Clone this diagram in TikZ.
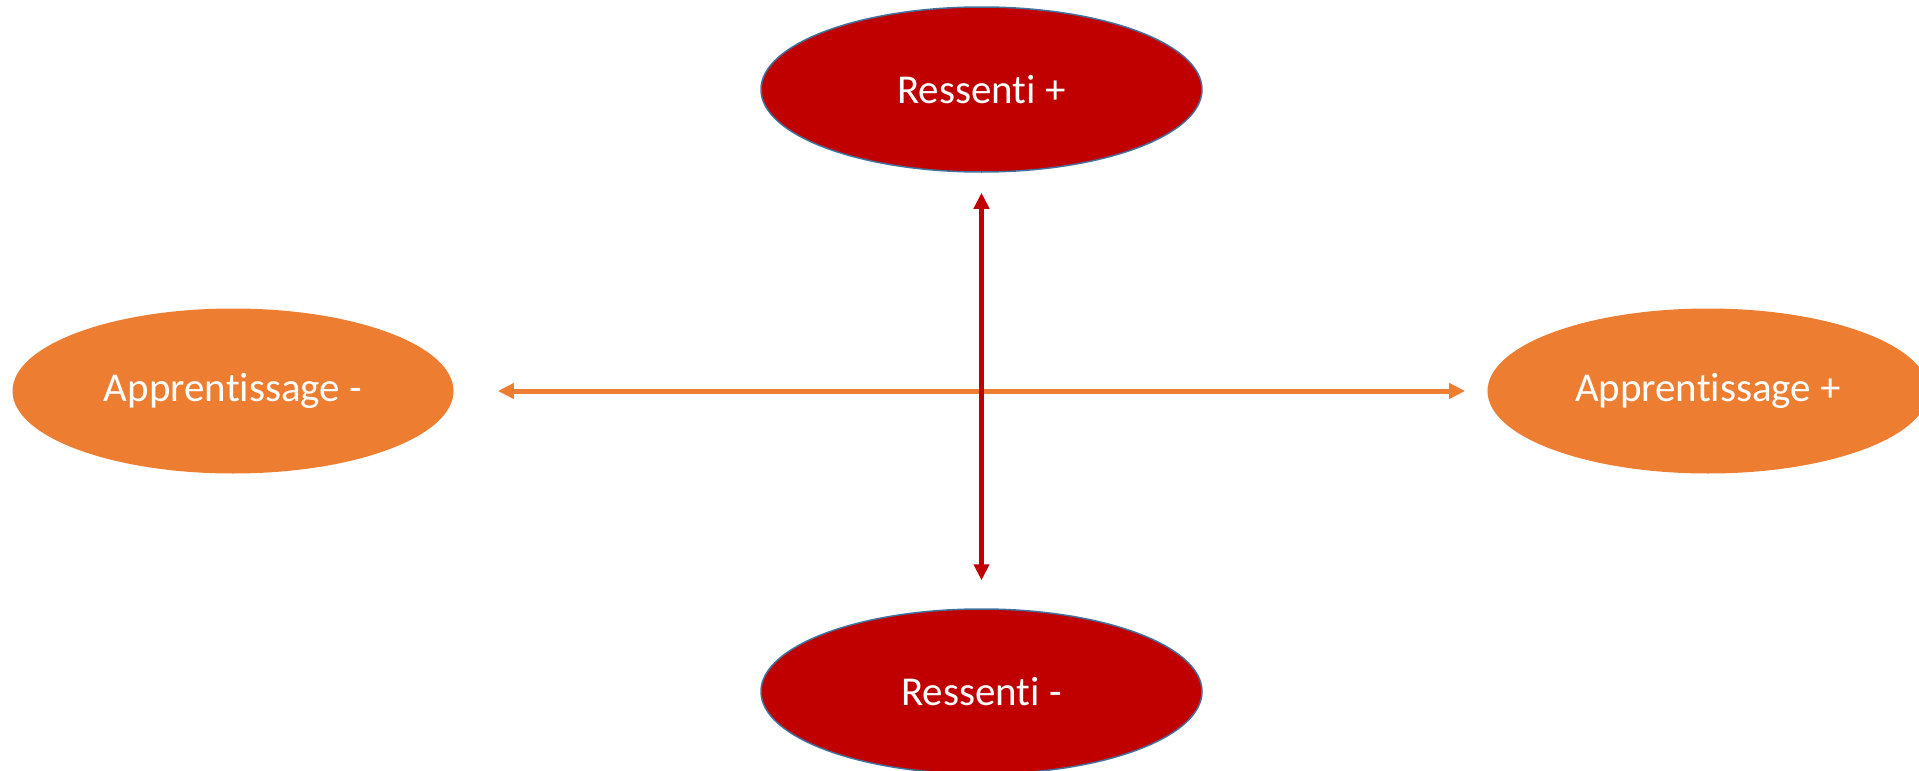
\documentclass[tikz,border=0pt]{standalone}
\usepackage{fontspec}
\setmainfont{Carlito}[Ligatures=NoCommon]
\usepackage{tikz}
\usetikzlibrary{shapes.geometric}
\usetikzlibrary{arrows.meta}
\definecolor{ressenti}{HTML}{C00000}
\definecolor{apprent}{HTML}{ED7D31}
\definecolor{contour}{HTML}{41719C}

\begin{document}
\begin{tikzpicture}[x=0.5pt,y=-0.5pt,
  pole/.style={ellipse,minimum width=220.5pt,minimum height=82.5pt,inner sep=0pt,
    text=white,font=\fontsize{20.5}{24}\selectfont},
  axe/.style={line width=2.5pt,{Triangle[length=8pt,width=7.5pt]}-{Triangle[length=8pt,width=7.5pt]}}]
  \useasboundingbox (0,0) rectangle (1919,771);
  \node[pole,fill=ressenti,draw=contour,line width=0.75pt] (rplus) at (981.5,89.5) {Ressenti +};
  \node[pole,fill=ressenti,draw=contour,line width=0.75pt] (rmoins) at (981.5,691.5) {Ressenti -};
  \node[pole,fill=apprent] (amoins) at (233,391) {Apprentissage -};
  \node[pole,fill=apprent] (aplus) at (1708,391) {Apprentissage +};

  \draw[axe,apprent,shorten <=22pt,shorten >=11pt] (amoins) -- (aplus); % axe horizontal
  \draw[axe,ressenti,shorten <=10pt,shorten >=14pt] (rplus) -- (rmoins); % axe vertical
\end{tikzpicture}
\end{document}
